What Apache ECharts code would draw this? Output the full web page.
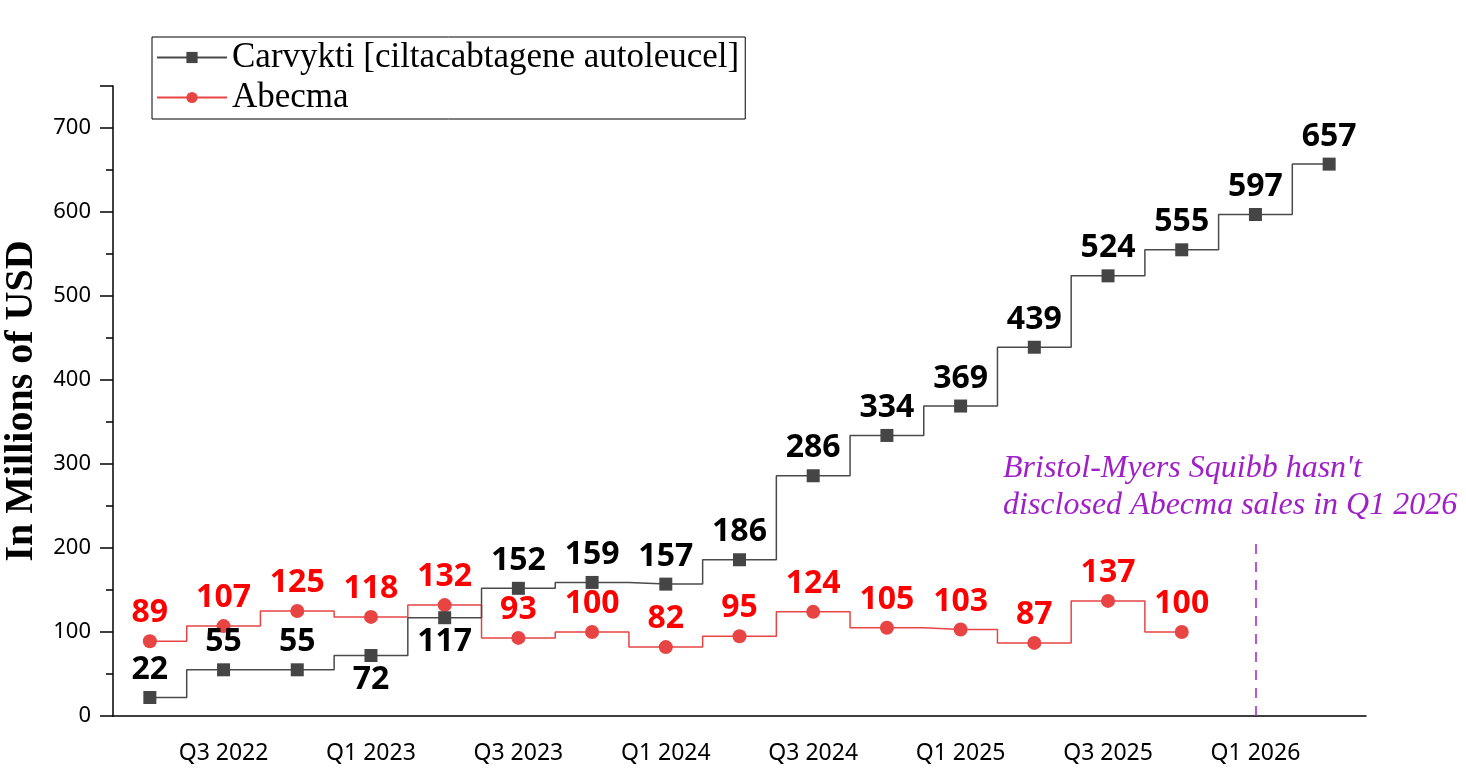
<!DOCTYPE html>
<html>
<head>
<meta charset="utf-8">
<title>Carvykti vs Abecma</title>
<script src="https://cdn.jsdelivr.net/npm/echarts@6/dist/echarts.min.js"></script>
<style>
  html, body { margin: 0; padding: 0; background: #fff; }
  #main { width: 1466px; height: 775px; }
</style>
</head>
<body>
<div id="main"></div>
<script>
// quarters on the x axis
var quarters = ['Q2 2022', 'Q3 2022', 'Q4 2022', 'Q1 2023', 'Q2 2023', 'Q3 2023', 'Q4 2023', 'Q1 2024',
  'Q2 2024', 'Q3 2024', 'Q4 2024', 'Q1 2025', 'Q2 2025', 'Q3 2025', 'Q4 2025', 'Q1 2026', 'Q2 2026'];
// sales in millions of USD
var carvykti = [22, 55, 55, 72, 117, 152, 159, 157, 186, 286, 334, 369, 439, 524, 555, 597, 657];
var abecma = [89, 107, 125, 118, 132, 93, 100, 82, 95, 124, 105, 103, 87, 137, 100];
var carvyktiBelow = [3, 4];   // labels drawn under the point (72, 117)
var noteQuarter = 'Q1 2026';
var noteTop = 213;

var purple = '#a020c8';
var myChart = echarts.init(document.getElementById('main'));

var carvyktiData = carvykti.map(function (v, i) {
    if (carvyktiBelow.indexOf(i) >= 0) {
        return { value: v, label: { position: 'bottom', distance: 2 } };
    }
    return v;
});

// only every other quarter gets a label and a long tick
function isMajor(i) { return i % 2 === 1; }

myChart.setOption({
    animation: false,
    grid: { left: 113, right: 100, top: 86, bottom: 59, outerBoundsMode: 'none' },
    legend: {
        orient: 'vertical',
        left: 152,
        top: 37,
        itemWidth: 70,
        itemHeight: 14,
        itemGap: 5,
        padding: [3, 6, 4, 4],
        borderColor: '#000',
        borderWidth: 1,
        textStyle: { fontFamily: 'Liberation Serif', fontSize: 35, color: '#000' },
        data: ['Carvykti [ciltacabtagene autoleucel]', 'Abecma']
    },
    xAxis: [
        {
            type: 'category',
            data: quarters,
            boundaryGap: true,
            axisLine: { lineStyle: { color: '#000', width: 1.5 } },
            axisTick: { alignWithLabel: true, interval: 0, length: 7, lineStyle: { color: '#000', width: 1.5 } },
            axisLabel: {
                interval: 0,
                margin: 26,
                fontFamily: 'Noto Sans',
                fontSize: 23,
                color: '#000',
                formatter: function (v, i) { return isMajor(i) ? v : ''; }
            },
            splitLine: { show: false }
        },
        {
            type: 'category',
            data: quarters,
            boundaryGap: true,
            position: 'bottom',
            axisLine: { show: false },
            axisTick: {
                alignWithLabel: true,
                interval: function (i) { return isMajor(i); },
                length: 12,
                lineStyle: { color: '#000', width: 1.5 }
            },
            axisLabel: { show: false },
            splitLine: { show: false }
        }
    ],
    yAxis: {
        type: 'value',
        min: 0,
        max: 750,
        interval: 100,
        name: 'In Millions of USD',
        nameLocation: 'middle',
        nameGap: 71,
        nameRotate: 90,
        nameTextStyle: { fontFamily: 'Liberation Serif', fontWeight: 'bold', fontSize: 40, color: '#000' },
        axisLine: { show: true, lineStyle: { color: '#000', width: 1.5 } },
        axisTick: { show: true, length: 13, lineStyle: { color: '#000', width: 1.5 } },
        minorTick: { show: true, splitNumber: 2, length: 7, lineStyle: { color: '#000', width: 1.5 } },
        axisLabel: {
            margin: 22,
            fontFamily: 'Noto Sans',
            fontSize: 22,
            color: '#000',
            formatter: function (v) { return v > 700 ? '' : v; }
        },
        splitLine: { show: false }
    },
    series: [
        {
            name: 'Carvykti [ciltacabtagene autoleucel]',
            type: 'line',
            step: 'middle',
            symbol: 'rect',
            symbolSize: 13,
            itemStyle: { color: '#454545' },
            lineStyle: { color: '#4a4a4a', width: 1.5 },
            label: {
                show: true,
                position: 'top',
                distance: 5,
                fontFamily: 'Noto Sans',
                fontWeight: 'bold',
                fontSize: 32,
                color: '#000'
            },
            data: carvyktiData,
            markLine: {
                silent: true,
                symbol: 'none',
                label: { show: false },
                lineStyle: { color: purple, type: [10, 8], width: 1.5 },
                data: [[{ coord: [noteQuarter, 0] }, { coord: [noteQuarter, noteTop] }]]
            },
            z: 3
        },
        {
            name: 'Abecma',
            type: 'line',
            step: 'middle',
            symbol: 'circle',
            symbolSize: 14,
            itemStyle: { color: '#e84444' },
            lineStyle: { color: '#e84444', width: 1.5 },
            label: {
                show: true,
                position: 'top',
                distance: 5,
                fontFamily: 'Noto Sans',
                fontWeight: 'bold',
                fontSize: 32,
                color: '#ff0000'
            },
            data: abecma,
            z: 2
        }
    ],
    graphic: [
        {
            type: 'text',
            left: 1003,
            top: 450,
            style: {
                text: "Bristol-Myers Squibb hasn't\ndisclosed Abecma sales in Q1 2026",
                fontFamily: 'Liberation Serif',
                fontStyle: 'italic',
                fontSize: 32,
                lineHeight: 37,
                fill: purple
            }
        }
    ]
});
</script>
</body>
</html>
